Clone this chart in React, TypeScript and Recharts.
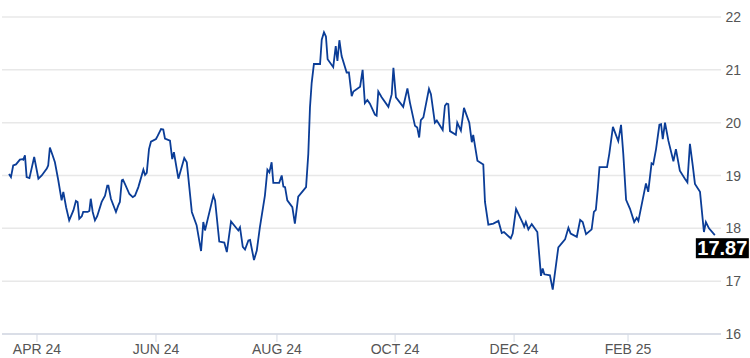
import React from "react";
import {
  LineChart,
  Line,
  XAxis,
  YAxis,
  CartesianGrid,
  ReferenceDot,
} from "recharts";

// [trading session, close]; session 0 is mid March 2024
const closes: [number, number][] = [
  [0.0, 19.03], [0.7, 18.97], [1.5, 19.19], [2.5, 19.21], [3.9, 19.3], [4.8, 19.31],
  [5.1, 19.3], [5.7, 19.38], [6.3, 18.97], [7.3, 18.95], [9.0, 19.35], [10.5, 18.94],
  [11.7, 19.0], [13.5, 19.13], [14.0, 19.19], [14.6, 19.53], [15.6, 19.38], [16.4, 19.25],
  [17.6, 18.91], [18.8, 18.53], [19.4, 18.69], [20.4, 18.4], [21.5, 18.15], [23.0, 18.34],
  [23.9, 18.52], [24.5, 18.5], [25.1, 18.18], [26.0, 18.23], [26.5, 18.31], [28.1, 18.31],
  [28.7, 18.33], [29.2, 18.56], [29.9, 18.31], [30.7, 18.15], [31.5, 18.23], [33.1, 18.5],
  [34.3, 18.62], [35.1, 18.81], [35.5, 18.81], [36.4, 18.56], [38.2, 18.31], [39.0, 18.43],
  [39.6, 18.5], [40.3, 18.91], [40.7, 18.92], [41.4, 18.84], [43.0, 18.65], [44.2, 18.59],
  [45.0, 18.62], [46.2, 18.78], [48.0, 19.11], [48.6, 19.01], [49.2, 19.05], [50.0, 19.5],
  [50.7, 19.64], [52.5, 19.69], [53.1, 19.75], [54.3, 19.88], [55.1, 19.87], [55.7, 19.7],
  [57.5, 19.66], [58.3, 19.31], [58.9, 19.44], [60.5, 18.94], [62.6, 19.33], [63.5, 19.25],
  [65.3, 18.31], [67.0, 18.06], [68.6, 17.57], [69.4, 18.12], [70.0, 17.96], [73.0, 18.62],
  [73.6, 18.53], [75.1, 17.75], [76.9, 17.73], [77.8, 17.55], [79.3, 18.13], [81.9, 17.96],
  [82.5, 18.02], [83.5, 17.65], [84.3, 17.6], [85.5, 17.77], [86.1, 17.78], [87.5, 17.4],
  [88.5, 17.58], [89.6, 18.02], [91.4, 18.62], [92.3, 19.11], [93.0, 19.06], [93.8, 19.25],
  [94.4, 18.86], [96.5, 18.86], [97.4, 19.0], [98.0, 18.79], [98.6, 18.78], [99.4, 18.53],
  [101.2, 18.4], [102.1, 18.09], [103.3, 18.6], [106.1, 18.78], [106.9, 19.41], [107.5, 20.29],
  [108.1, 20.75], [108.9, 21.11], [111.1, 21.11], [111.7, 21.57], [112.5, 21.71], [113.2, 21.63],
  [113.8, 21.2], [115.8, 21.05], [116.7, 21.45], [117.3, 21.17], [118.0, 21.56], [118.8, 21.26],
  [120.6, 20.95], [121.4, 20.95], [122.4, 20.5], [123.0, 20.59], [125.4, 20.68], [126.3, 21.0],
  [127.1, 20.37], [128.0, 20.43], [128.9, 20.36], [130.7, 20.15], [131.3, 20.13], [131.9, 20.59],
  [133.1, 20.48], [135.5, 20.3], [136.7, 20.54], [137.3, 21.04], [138.2, 20.48], [140.8, 20.3],
  [142.3, 20.65], [143.2, 20.38], [145.0, 19.94], [145.8, 19.91], [146.5, 19.72], [147.1, 20.05],
  [148.0, 20.1], [150.0, 20.64], [150.7, 20.54], [152.1, 20.0], [152.8, 20.04], [154.9, 19.86],
  [155.7, 20.32], [156.3, 20.36], [156.9, 20.35], [157.5, 19.84], [159.6, 19.77], [160.1, 20.0],
  [161.4, 19.85], [162.5, 20.28], [164.4, 20.0], [165.3, 19.63], [165.8, 19.77], [167.3, 19.28],
  [169.4, 19.21], [170.0, 18.5], [171.2, 18.07], [173.0, 18.09], [174.8, 18.14], [176.0, 17.91],
  [176.8, 17.93], [179.2, 17.81], [179.9, 17.9], [181.1, 18.37], [183.5, 18.1], [184.0, 18.03],
  [184.6, 18.12], [185.5, 17.98], [186.7, 18.08], [188.7, 17.93], [190.0, 17.1], [190.6, 17.24],
  [191.2, 17.13], [193.2, 17.11], [194.2, 16.84], [196.2, 17.64], [198.6, 17.79], [199.8, 18.01],
  [200.6, 17.9], [202.8, 17.84], [204.0, 18.16], [204.9, 18.12], [206.1, 17.89], [208.1, 17.98],
  [208.9, 18.31], [209.6, 18.35], [210.3, 18.75], [210.9, 19.16], [213.6, 19.16], [214.4, 19.41],
  [215.7, 19.92], [217.6, 19.65], [218.6, 19.96], [219.4, 19.41], [220.4, 18.54], [221.8, 18.37],
  [223.3, 18.12], [224.2, 18.2], [224.8, 18.14], [227.5, 18.85], [228.3, 18.69], [229.5, 19.23],
  [230.1, 19.21], [231.1, 19.5], [232.3, 19.96], [232.9, 19.97], [233.5, 19.69], [234.3, 20.0],
  [235.5, 19.66], [237.3, 19.27], [238.2, 19.5], [239.6, 19.09], [241.4, 18.94], [242.3, 18.87],
  [243.2, 19.6], [244.2, 19.19], [245.0, 18.84], [246.8, 18.69], [248.2, 17.93], [248.9, 18.12],
  [250.0, 18.0], [252.1, 17.87],
];

const monthTicks = [10, 52.5, 95.7, 137.9, 180.4, 221.1];
const monthLabels = ["APR 24", "JUN 24", "AUG 24", "OCT 24", "DEC 24", "FEB 25"];
const priceTicks = [16, 17, 18, 19, 20, 21, 22];

const data = closes.map(([session, close]) => ({ session, close }));
const last = closes[closes.length - 1];

const font = "'Liberation Sans', Arial, sans-serif";

const PriceTick = (props: any) => {
  const { x, y, payload } = props;
  return (
    <text x={x} y={y} dy={5} textAnchor="end" fill="#555" fontSize={14} fontFamily={font}>
      {payload.value}
    </text>
  );
};

const LastTag = (props: any) => {
  const { cx, cy } = props;
  return (
    <g>
      <rect x={cx - 19} y={cy + 3} width={53} height={20} fill="#000" />
      <text
        x={cx + 7.5}
        y={cy + 20}
        textAnchor="middle"
        fill="#fff"
        fontSize={20}
        fontWeight={700}
        fontFamily={font}
      >
        {last[1].toFixed(2)}
      </text>
    </g>
  );
};

export default function App() {
  return (
    <div style={{ position: "absolute", left: 0, top: 0, width: 750, height: 358, background: "#fff" }}>
      <LineChart
        width={750}
        height={358}
        data={data}
        margin={{ top: 17, right: 0, bottom: 0, left: 2 }}
      >
        <CartesianGrid vertical={false} stroke="#e8e8e8" strokeWidth={1.5} />
        <XAxis
          dataKey="session"
          type="number"
          domain={[-2.5, 254.3]}
          ticks={monthTicks}
          tickFormatter={(v: number) => monthLabels[monthTicks.indexOf(v)]}
          height={24}
          tickSize={8}
          tickMargin={2}
          stroke="#d3d9e4"
          axisLine={{ stroke: "#d3d9e4", strokeWidth: 1.5 }}
          tickLine={{ stroke: "#d3d9e4" }}
          tick={{ fill: "#555", fontSize: 14, fontFamily: font }}
          interval={0}
        />
        <YAxis
          orientation="right"
          domain={[16, 22]}
          ticks={priceTicks}
          width={29}
          axisLine={false}
          tickLine={false}
          tickSize={0}
          tickMargin={20}
          tick={<PriceTick />}
          interval={0}
        />
        <Line
          type="linear"
          dataKey="close"
          stroke="#0b3d97"
          strokeWidth={1.8}
          dot={false}
          isAnimationActive={false}
        />
        <ReferenceDot x={last[0]} y={last[1]} shape={<LastTag />} />
      </LineChart>
    </div>
  );
}
